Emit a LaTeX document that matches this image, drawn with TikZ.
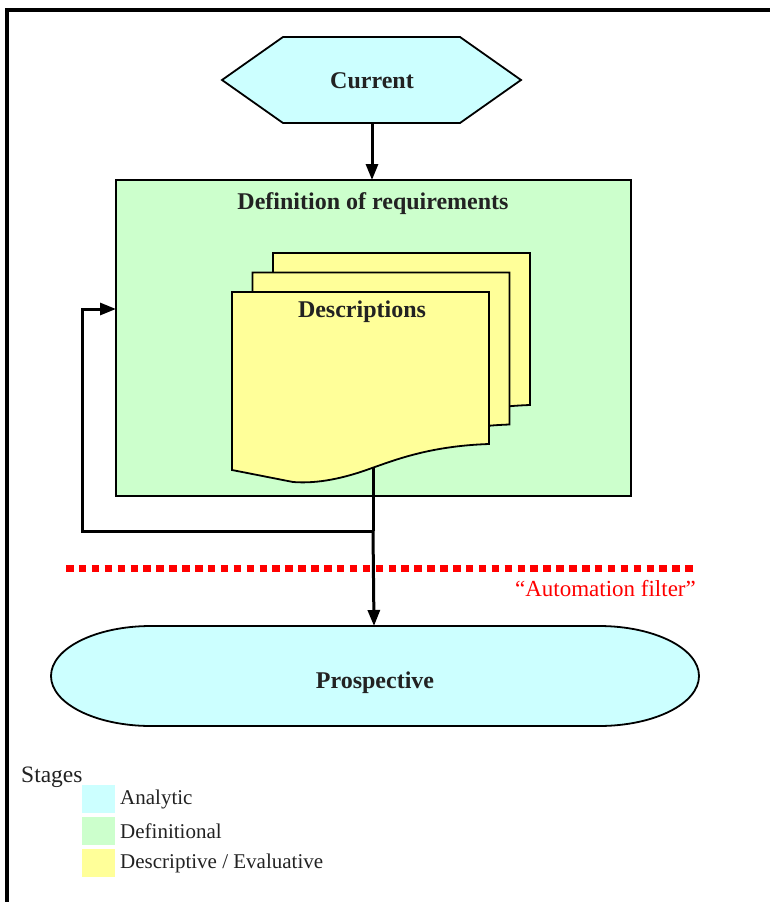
\documentclass[tikz,border=0pt]{standalone}
\usepackage{fontspec}
\setmainfont{Liberation Serif}
\usetikzlibrary{arrows.meta}
\definecolor{anacol}{HTML}{CCFFFF}
\definecolor{defcol}{HTML}{CCFFCC}
\definecolor{descol}{HTML}{FFFF99}
\definecolor{txtcol}{HTML}{222222}
\definecolor{filtred}{HTML}{FF0000}
\tikzset{
  shapeline/.style={draw=black, line width=1.8pt},
  bigtxt/.style={font=\fontsize{24}{28}\selectfont\bfseries, text=txtcol, inner sep=0pt},
  legtxt/.style={font=\fontsize{21}{25}\selectfont, text=txtcol, inner sep=0pt, anchor=west},
  flow/.style={line width=3pt, -{Triangle[length=16pt,width=12pt]}},
  plainflow/.style={line width=3pt},
  swatch/.style={inner sep=0pt, minimum width=33pt, minimum height=28pt, anchor=north west},
}
\newcommand{\docpath}{(489,444) .. controls (430,446) and (395,460) .. (372,468)
   .. controls (345,478) and (318,484) .. (293,482) -- (232,470) -- (232,292) -- (489,292) -- cycle}
\begin{document}
\begin{tikzpicture}[x=1pt,y=-1pt]
\useasboundingbox (0,0) rectangle (770,902);
% frame
\draw[line width=4pt] (7,902) -- (7,10) -- (770,10);
% Current hexagon
\filldraw[shapeline, fill=anacol] (222,80) -- (283,37) -- (460,37) -- (521,80) -- (460,123) -- (283,123) -- cycle;
\node[bigtxt] (cur) at (372,81) {Current};
\coordinate (curb) at (372,123);
% Definition box
\filldraw[shapeline, fill=defcol] (116,180) rectangle (631,496);
\coordinate (deft) at (372,180);
\coordinate (defl) at (116,309);
\node[bigtxt] (deflab) at (373,204) {Definition of requirements};
% documents
\filldraw[shapeline, fill=descol, shift={(41,-39)}] \docpath;
\filldraw[shapeline, fill=descol, shift={(20.5,-19.5)}] \docpath;
\filldraw[shapeline, fill=descol] \docpath;
\node[bigtxt] (desc) at (362,312) {Descriptions};
\coordinate (docb) at (373,468);
\coordinate (junc) at (373,531);
\coordinate (loopl) at (82,531);
\coordinate (loopt) at (82,309);
% Prospective
\filldraw[shapeline, fill=anacol] (151,626) -- (599,626)
  .. controls (654.2,626) and (699,648.4) .. (699,676)
  .. controls (699,703.6) and (654.2,726) .. (599,726)
  -- (151,726)
  .. controls (95.8,726) and (51,703.6) .. (51,676)
  .. controls (51,648.4) and (95.8,626) .. (151,626) -- cycle;
\node[bigtxt] (pro) at (375,683) {Prospective};
\coordinate (prot) at (374,626);
% connectors
\draw[flow] (curb) -- (deft);
\draw[plainflow] (docb) -- (junc);
\draw[flow] (junc) -- (prot);
\draw[flow] (junc) -- (loopl) -- (loopt) -- (defl);
% automation filter
\coordinate (fl) at (66,568);
\coordinate (fr) at (697,568);
\draw[filtred, line width=7pt, dash pattern=on 7.5pt off 5.4pt] (fl) -- (fr);
\node[font=\fontsize{23}{27}\selectfont, text=filtred, inner sep=0pt, anchor=east] (filt) at (696,589) {``Automation filter''};
% legend
\node[font=\fontsize{23.5}{27}\selectfont, text=txtcol, inner sep=0pt, anchor=west] (stg) at (21,777) {Stages};
\node[swatch, fill=anacol] (s1) at (82,785) {};
\node[swatch, fill=defcol] (s2) at (82,816.5) {};
\node[swatch, fill=descol] (s3) at (82,848.5) {};
\node[legtxt] (l1) at (120,799) {Analytic};
\node[legtxt] (l2) at (120,831) {Definitional};
\node[legtxt] (l3) at (120,863) {Descriptive / Evaluative};
\end{tikzpicture}
\end{document}
